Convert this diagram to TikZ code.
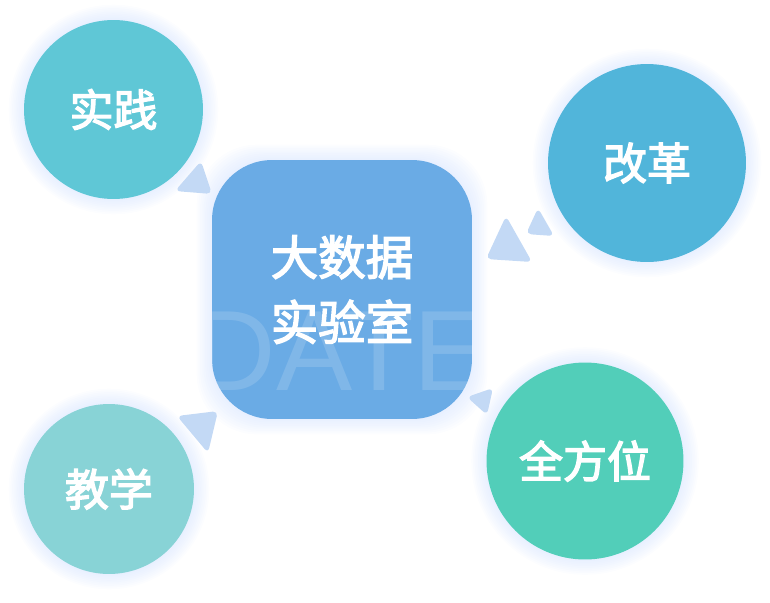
\documentclass[tikz,border=0pt]{standalone}
\usepackage{fontspec}
\setsansfont{Liberation Sans}
\newfontfamily\cjk[FakeBold=3]{Noto Sans CJK SC}
\definecolor{labblue}{HTML}{6AABE5}
\definecolor{practice}{HTML}{5FC7D6}
\definecolor{reform}{HTML}{51B5DA}
\definecolor{teaching}{HTML}{88D3D6}
\definecolor{allround}{HTML}{52CEB9}
\definecolor{tri}{HTML}{C3D9F5}
\definecolor{glow}{HTML}{C4D8FF}
\tikzset{
  bubble/.style={circle, inner sep=0pt, text=white, font=\cjk\fontsize{25}{30}\selectfont},
  pointer/.style={fill=tri, rounded corners=3pt},
}
\begin{document}
\begin{tikzpicture}[x=0.02cm,y=-0.02cm]
\useasboundingbox (0,0) rectangle (770,602);
% soft glow behind the shapes
\foreach \cx/\cy/\r in {113.5/109.5/89.5, 647/163/99, 109/489/85, 585/461/98.5} {
  \foreach \k in {1,...,9}
    \fill[glow, opacity=0.05] (\cx,\cy) circle [radius=\r+1.7*\k];
}
\foreach \k in {1,...,9}
  \fill[glow, opacity=0.05, rounded corners=1.2cm] (212-1.7*\k,160-1.7*\k) rectangle (472+1.7*\k,419+1.7*\k);
% little triangles
\fill[pointer] (201,161) -- (175,191) -- (212,194) -- cycle;
\fill[pointer] (506,216) -- (486,259) -- (532,262) -- cycle;
\fill[pointer] (538,208) -- (526,234) -- (554,236) -- cycle;
\fill[pointer] (177,416) -- (218,411) -- (208,453) -- cycle;
\fill[pointer] (467,397) -- (493,388) -- (487,415) -- cycle;
% centre square
\node[fill=labblue, rounded corners=1.2cm, minimum width=5.2cm, minimum height=5.18cm] (lab) at (342,289.5) {};
\begin{scope}
\clip[rounded corners=1.2cm] (212,160) rectangle (472,419);
\node[anchor=base, text=white, text opacity=0.15, font=\sffamily\fontsize{65}{65}\selectfont, inner sep=0pt] (date) at (342,390) {DATE};
\end{scope}
\node[text=white, align=center, font=\cjk\fontsize{27}{37}\selectfont] (labtext) at (lab.center) {大数据\\实验室};
% four circles
\node[bubble, fill=practice, minimum size=3.58cm] (shijian) at (113.5,109.5) {实践};
\node[bubble, fill=reform, minimum size=3.96cm] (gaige) at (647,163) {改革};
\node[bubble, fill=teaching, minimum size=3.4cm] (jiaoxue) at (109,489) {教学};
\node[bubble, fill=allround, minimum size=3.94cm] (quanfangwei) at (585,461) {全方位};
\end{tikzpicture}
\end{document}
